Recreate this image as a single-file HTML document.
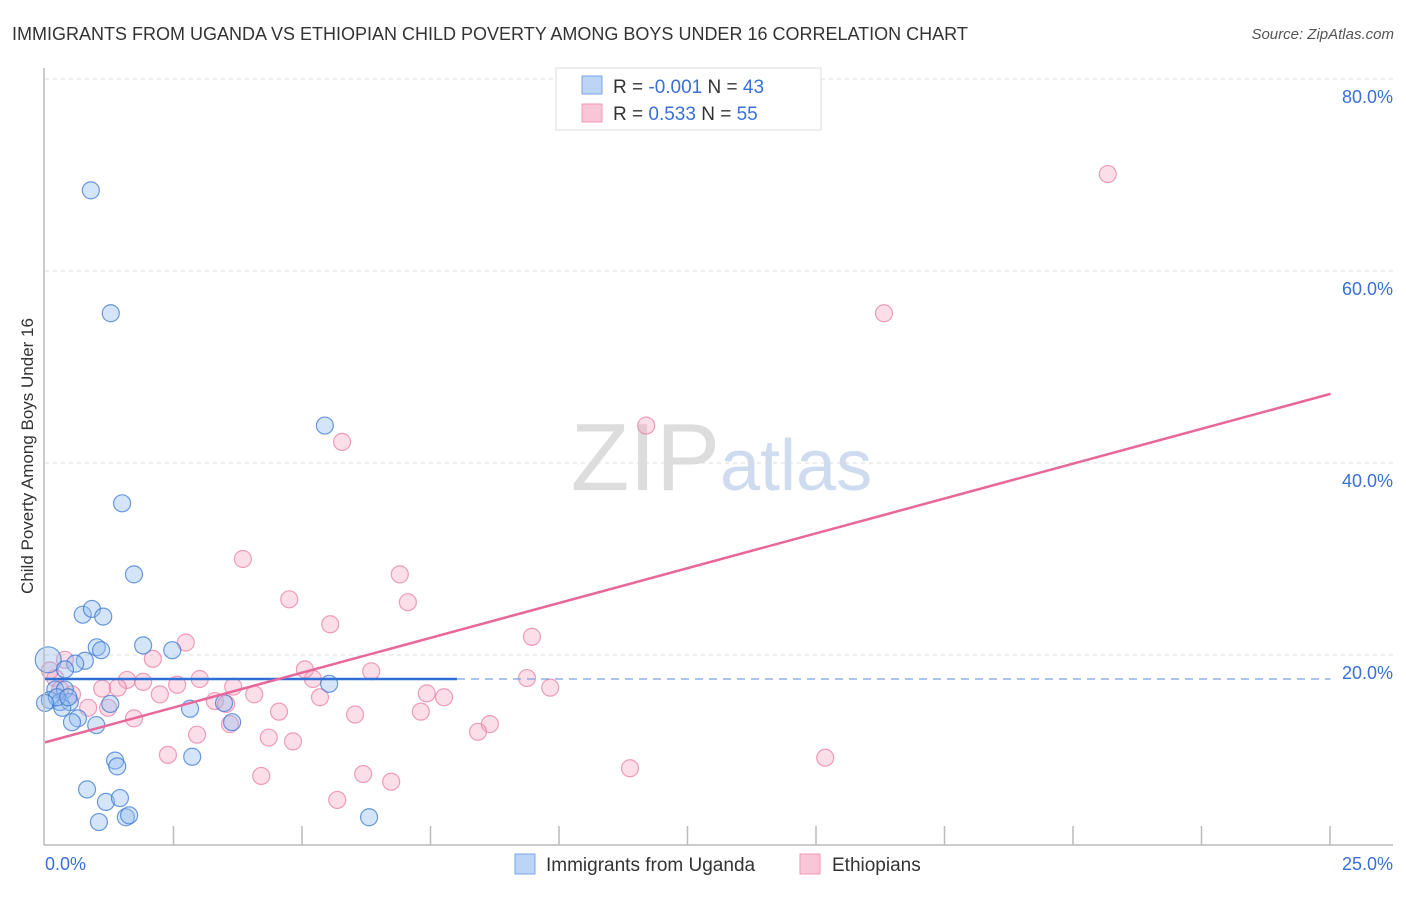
<!DOCTYPE html>
<html><head><meta charset="utf-8"><style>
body{margin:0;background:#fff;font-family:"Liberation Sans",sans-serif}
svg text{font-family:"Liberation Sans",sans-serif}
</style></head><body>
<svg id="chart" width="1406" height="892" xmlns="http://www.w3.org/2000/svg">
<text x="12" y="40" font-size="18" fill="#333">IMMIGRANTS FROM UGANDA VS ETHIOPIAN CHILD POVERTY AMONG BOYS UNDER 16 CORRELATION CHART</text>
<text x="1394" y="39" font-size="15" fill="#555" text-anchor="end" font-style="italic">Source: ZipAtlas.com</text>
<text transform="translate(33,456) rotate(-90)" font-size="17" fill="#333" text-anchor="middle">Child Poverty Among Boys Under 16</text>
<text x="720" y="490" font-size="96" text-anchor="end" fill="#ddd" font-family="Liberation Serif">ZIP</text>
<text x="720" y="490" font-size="72" fill="#cfdcf0">atlas</text>
<g id="grid"></g><g id="ticks"></g><g id="pts"></g><g id="lines"></g>
<line x1="44" y1="68" x2="44" y2="845" stroke="#bbb" stroke-width="1.5"/>
<line x1="44" y1="845" x2="1393" y2="845" stroke="#bbb" stroke-width="1.5"/>
<text x="45" y="870" font-size="18" fill="#3a6fd8">0.0%</text>
<text x="1393" y="870" font-size="18" fill="#3a6fd8" text-anchor="end">25.0%</text>
<g>
<rect x="556" y="68" width="265" height="62" fill="#fff" stroke="#ddd"/>
<rect x="582" y="76" width="20" height="18" fill="#bcd4f6" stroke="#7aa6e6"/>
<rect x="582" y="104" width="20" height="18" fill="#f8c6d6" stroke="#ee9ab6"/>
<text x="613" y="93" font-size="19" fill="#333">R = <tspan fill="#3a6fd8">-0.001</tspan>   N = <tspan fill="#3a6fd8">43</tspan></text>
<text x="613" y="120" font-size="19" fill="#333">R =  <tspan fill="#3a6fd8"> 0.533</tspan>   N = <tspan fill="#3a6fd8">55</tspan></text>
</g>
<g>
<rect x="515" y="854" width="20" height="20" fill="#bcd4f6" stroke="#7aa6e6"/>
<text x="546" y="871" font-size="19" fill="#333">Immigrants from Uganda</text>
<rect x="800" y="854" width="20" height="20" fill="#f8c6d6" stroke="#ee9ab6"/>
<text x="832" y="871" font-size="19" fill="#333">Ethiopians</text>
</g>
</svg>
<script>
const yTicks=[20,40,60,80];
const xTickCount=10;
const blueX=[0.85,1.22,5.19,1.43,1.65,0.70,0.87,1.08,0.96,1.04,1.82,2.36,0.06,0.74,0.56,0.37,0.19,0.37,0.09,0.28,0.46,0.32,0.61,0.50,0.95,1.21,2.69,3.32,3.47,5.27,2.73,1.30,1.34,0.78,1.13,1.39,1.50,1.56,1.00,6.01,0.22,0.43,0];
const blueY=[68.4,55.6,43.9,35.8,28.4,24.2,24.8,24.0,20.8,20.5,21.0,20.5,19.5,19.4,19.1,18.5,16.4,16.4,15.3,15.1,15.1,14.5,13.4,13.0,12.7,14.9,14.4,15.0,13.0,17.0,9.4,9.0,8.4,6.0,4.7,5.1,3.1,3.3,2.6,3.1,15.6,15.6,15.0];
const pinkX=[19.71,15.56,11.15,5.51,3.67,6.58,4.53,6.73,5.29,9.03,2.61,2.00,4.82,6.05,8.94,2.87,1.52,1.82,2.45,3.49,1.06,1.35,2.13,3.88,4.97,5.10,9.37,7.08,7.40,3.15,3.36,0.50,0.80,1.17,4.34,6.97,5.75,1.65,8.25,3.43,2.82,4.15,4.60,8.03,2.28,10.85,14.47,4.01,5.90,6.42,5.42,0.19,0.28,0.09,0.37];
const pinkY=[70.1,55.6,43.9,42.2,30.0,28.4,25.8,25.5,23.2,21.9,21.3,19.6,18.5,18.3,17.6,17.5,17.4,17.2,16.9,16.7,16.5,16.6,15.9,15.9,17.5,15.6,16.6,16.0,15.6,15.2,14.9,15.9,14.5,14.5,14.1,14.1,13.8,13.4,12.8,12.8,11.7,11.4,11.0,12.0,9.6,8.2,9.3,7.4,7.6,6.8,4.9,17.6,16.4,18.4,19.5];
const blueTrend=[[0,17.5],[7.64,17.5],[23.84,17.5]];
const pinkTrend=[[0,10.9],[23.84,47.2]];
const NS="http://www.w3.org/2000/svg";
const sx=v=>45+v*53.92, sy=v=>847-v*9.6;
function mk(tag,attrs,parent){const e=document.createElementNS(NS,tag);for(const k in attrs)e.setAttribute(k,attrs[k]);document.getElementById(parent).appendChild(e);return e;}
let g=mk('line',{x1:45,x2:1393,y1:79,y2:79,stroke:'#ddd','stroke-dasharray':'4,4'},'grid');


yTicks.forEach(t=>{
 const l=mk('line',{x1:45,x2:1393,y1:sy(t),y2:sy(t),stroke:'#ddd','stroke-dasharray':'4,4'},'grid');
 
 
 const tx=mk('text',{x:1393,y:sy(t)+24,'font-size':18,fill:'#3a6fd8','text-anchor':'end'},'grid');
 tx.textContent=t.toFixed(1)+'%';
 
 
});
for(let i=1;i<=xTickCount;i++){
 const x=45+i*128.5;
 const l=mk('line',{x1:x,x2:x,y1:826,y2:845,stroke:'#bbb','stroke-width':1.5},'ticks');
 
 
}
function pts(X,Y,fill,stroke,name){
 X.forEach((x,i)=>{
  const r=(x<0.1&&Y[i]>19)?13:8.5;
  const c=mk('circle',{cx:sx(x),cy:sy(Y[i]),r:r,fill:fill,stroke:stroke,'stroke-width':1.2},'pts');
  
  
 });
}
pts(pinkX,pinkY,'rgba(244,160,190,0.35)','rgba(232,120,160,0.7)','ethiopians-point');
pts(blueX,blueY,'rgba(150,190,240,0.4)','rgba(60,120,210,0.75)','uganda-point');
let b1=mk('line',{x1:sx(blueTrend[0][0]),y1:sy(blueTrend[0][1]),x2:sx(blueTrend[1][0]),y2:sy(blueTrend[1][1]),stroke:'#2f6fd6','stroke-width':2.5},'lines');


let b2=mk('line',{x1:sx(blueTrend[1][0]),y1:sy(blueTrend[1][1]),x2:sx(blueTrend[2][0]),y2:sy(blueTrend[2][1]),stroke:'#7aa0dc','stroke-width':1.3,'stroke-dasharray':'8,6'},'lines');


let p1=mk('line',{x1:sx(pinkTrend[0][0]),y1:sy(pinkTrend[0][1]),x2:sx(pinkTrend[1][0]),y2:sy(pinkTrend[1][1]),stroke:'#e8679a','stroke-width':2.5},'lines');


</script>
</body></html>
